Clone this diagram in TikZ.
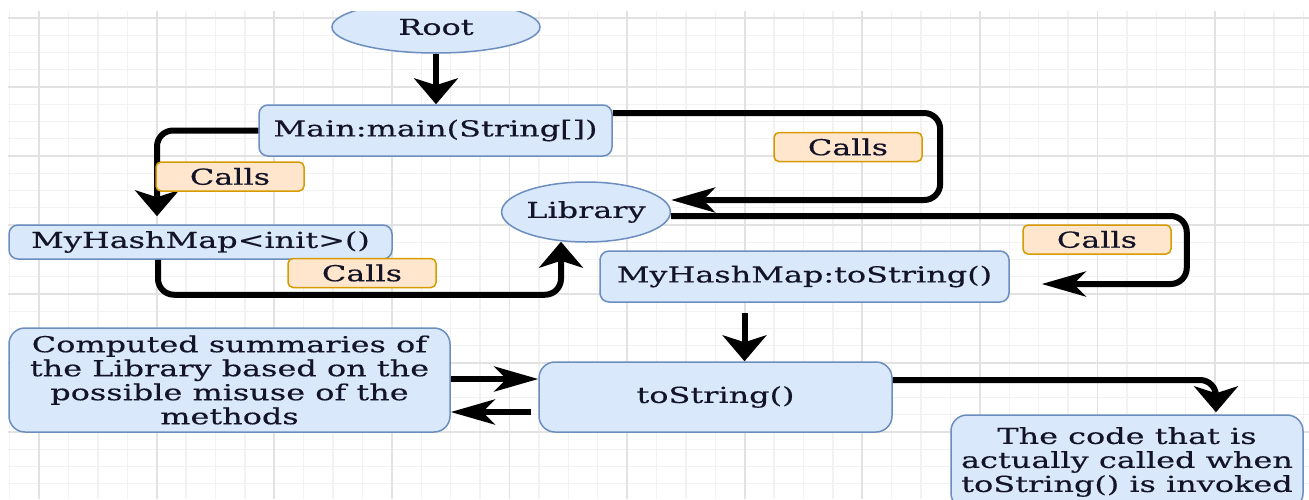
\documentclass[tikz,border=0pt]{standalone}
\usepackage{fontspec}
\setmainfont{DejaVu Serif}[FakeStretch=1.45,FakeBold=0.4]
\usetikzlibrary{arrows.meta,shapes.geometric,calc}
\definecolor{boxfill}{HTML}{DAE8FC}
\definecolor{boxline}{HTML}{6C8EBF}
\definecolor{lblfill}{HTML}{FFE6CC}
\definecolor{lblline}{HTML}{D79B00}
\definecolor{gminor}{HTML}{F2F2F2}
\definecolor{gmajor}{HTML}{E2E2E2}
\definecolor{txt}{HTML}{141428}
\begin{document}
\begin{tikzpicture}[x=1pt,y=-1pt,
  every node/.style={font=\fontsize{22}{24}\selectfont, text=txt, inner sep=0pt},
  blockbox/.style={draw=boxline, fill=boxfill, line width=1.5pt, rounded corners=9pt, align=center},
  bigbox/.style={blockbox, rounded corners=16pt},
  oval/.style={ellipse, draw=boxline, fill=boxfill, line width=1.5pt},
  lbl/.style={draw=lblline, fill=lblfill, line width=1.5pt, rounded corners=5pt, minimum width=148pt, minimum height=29pt},
  conn/.style={line width=6pt, rounded corners=16pt},
  vtip/.style={conn, -{Stealth[length=26pt,width=44pt,inset=7pt]}},
  htip/.style={conn, -{Stealth[length=44pt,width=25pt,inset=12pt]}},
]
\useasboundingbox (0,0) rectangle (1309,499);
\fill[white] (0,0) rectangle (1309,499);
\begin{scope}
\clip (8,11) rectangle (1309,499);
% grid
\foreach \i in {0,...,44} { \draw[gminor, line width=1.4pt] ({9.6+29.4*\i},11) -- ++(0,488); }
\foreach \j in {1,...,28} { \draw[gminor, line width=1pt] (8,{0.75+17.25*\j}) -- ++(1301,0); }
\foreach \i in {0,...,10} { \draw[gmajor, line width=1.8pt] ({39+117.6*\i},11) -- ++(0,488); }
\foreach \j in {0,...,6} { \draw[gmajor, line width=1.2pt] (8,{18+69*\j}) -- ++(1301,0); }
% nodes
\node[oval, minimum width=208pt, minimum height=52pt] (root) at (436,27) {Root};
\node[blockbox, minimum width=353pt, minimum height=51pt] (main) at (435.5,130.5) {Main:main(String[])};
\node[blockbox, minimum width=383pt, minimum height=34pt] (init) at (200.5,242) {MyHashMap<init>()};
\node[oval, minimum width=162pt, minimum height=60pt] (lib) at (586,212) {Library};
\node[blockbox, minimum width=409pt, minimum height=51pt] (mts) at (804.5,276.5) {MyHashMap:toString()};
\node[bigbox, minimum width=353pt, minimum height=70pt] (ts) at (715.5,397) {toString()};
\node[bigbox, minimum width=441pt, minimum height=104pt] (comp) at (229.5,380) {Computed summaries of\\the Library based on the\\possible misuse of the\\methods};
\node[bigbox, minimum width=352pt, minimum height=94pt] (code) at (1127,462) {The code that is\\actually called when\\toString() is invoked};
% connectors
\draw[vtip] (root.south) -- (root.south |- main.north);
\coordinate (mi) at ([xshift=-43.5pt,yshift=8pt]init.north);
\draw[vtip] (main.west) -| (mi);
\coordinate (ib) at ([xshift=-42.5pt]init.south);
\coordinate (lb) at ([xshift=-25pt,yshift=1pt]lib.south);
\draw[vtip] (ib) |- ($(lb)+(0,53)$) -- (lb);
\coordinate (ms) at ([yshift=17.5pt]main.east);
\coordinate (le) at ([yshift=12pt]lib.east);
\draw[htip] (ms) -| ($(le)+(269,0)$) -- (le);
\coordinate (lo) at ([yshift=-4pt]lib.east);
\coordinate (mi2) at ([xshift=32pt,yshift=-7.5pt]mts.east);
\draw[htip] (lo) -| ($(mi2)+(145,0)$) -- (mi2);
\coordinate (md) at ([xshift=-60pt,yshift=-10pt]mts.south);
\draw[vtip] (md) -- (md |- ts.north);
\coordinate (ce) at ([yshift=1pt]comp.east);
\draw[htip] (ce) -- (ce -| ts.west);
\coordinate (tw) at ([xshift=-7pt,yshift=-15pt]ts.west);
\draw[htip] (tw) -- (tw -| comp.east);
\coordinate (te) at ([yshift=17pt]ts.east);
\coordinate (cn) at ([xshift=89pt,yshift=2pt]code.north);
\draw[vtip] (te) -| (cn);
% labels
\node[lbl] (c1) at (230,176.5) {Calls};
\node[lbl] (c2) at (362,273) {Calls};
\node[lbl] (c3) at (848,147) {Calls};
\node[lbl] (c4) at (1097,239.5) {Calls};
\end{scope}
\end{tikzpicture}
\end{document}
